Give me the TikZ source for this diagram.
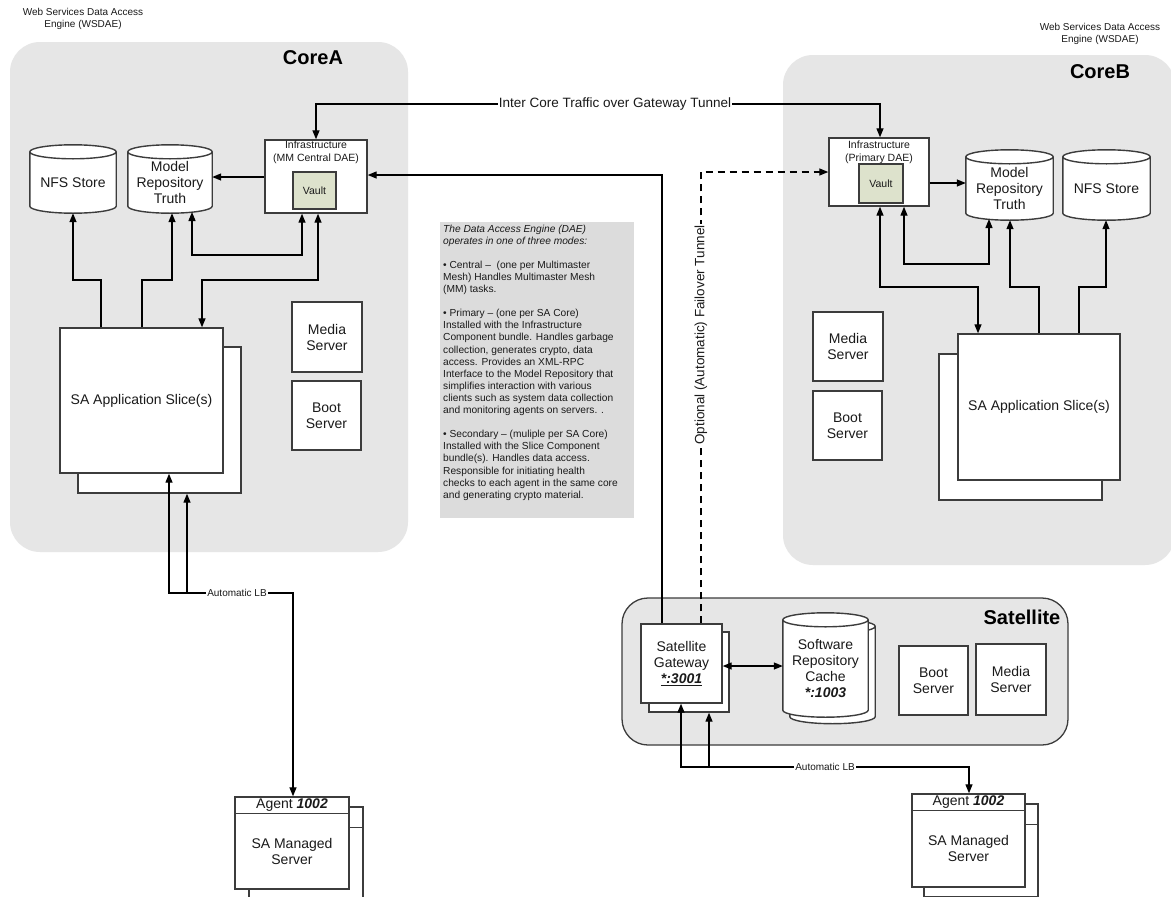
\documentclass[tikz,border=0pt]{standalone}
\usepackage{fontspec}
\setmainfont{Liberation Sans}
\usetikzlibrary{arrows.meta,calc}
\pgfdeclarelayer{back}
\pgfdeclarelayer{mid}
\pgfsetlayers{back,mid,main}

\definecolor{corefill}{HTML}{E6E6E6}
\definecolor{infofill}{HTML}{DCDCDC}
\definecolor{vaultfill}{HTML}{DDE2CC}
\definecolor{edge}{HTML}{3C3C3C}
\definecolor{ink}{HTML}{1A1A1A}

\newcommand\fsz[2]{\fontsize{#1}{#2}\selectfont}

\tikzset{
 corebg/.style={fill=corefill, rounded corners=30pt, draw=none, inner sep=0pt},
 satbg/.style={fill=corefill, rounded corners=26pt, draw=edge, line width=1.3pt, inner sep=0pt},
 infobg/.style={fill=infofill, draw=none, inner sep=0pt},
 box/.style={draw=edge, line width=1.4pt, fill=white, inner sep=0pt, align=center, font=\fsz{14}{16}, text=ink},
 boxline/.style={draw=edge, line width=1.4pt},
 vaultbox/.style={draw=edge, line width=1.4pt, fill=vaultfill, inner sep=0pt, font=\fsz{10.5}{12}, text=ink},
 cylnode/.style={inner sep=0pt, align=center, font=\fsz{14}{16}, text=ink},
 txt/.style={inner sep=0pt, align=center, font=\fsz{14}{16}, text=ink},
 smalltxt/.style={inner sep=0pt, align=center, font=\fsz{10.5}{13}, text=ink},
 wslbl/.style={inner sep=0pt, align=center, font=\fsz{10}{12.5}, text=ink},
 lbl/.style={font=\fsz{10}{12}, text=ink, inner sep=1pt, fill=white},
 biglbl/.style={font=\fsz{13.5}{15}, text=ink, inner sep=1pt, fill=white},
 infotxt/.style={align=left, font=\fsz{10.2}{12.1}, inner sep=1pt, text=ink},
 conn/.style={draw=black, line width=1.3pt},
 arr/.style={conn, -{Triangle[length=9pt,width=7pt]}},
 arrb/.style={conn, {Triangle[length=9pt,width=7pt]}-{Triangle[length=9pt,width=7pt]}},
 title/.style={font=\bfseries\fsz{20}{24}, text=black, inner sep=0pt},
}

\newcommand\cylinderat[1]{%
 \begin{pgfonlayer}{mid}
 \draw[draw=edge, line width=1.4pt, fill=white] let \p1=(#1.north west), \p2=(#1.south east), \n1={(\x2-\x1)/2} in
  (\x1,\y1) -- (\x1,\y2+7pt) arc[start angle=180, end angle=360, x radius=\n1, y radius=7pt] -- (\x2,\y1) arc[start angle=0, end angle=180, x radius=\n1, y radius=7pt] -- cycle
  (\x1,\y1) arc[start angle=180, end angle=360, x radius=\n1, y radius=7pt];
 \end{pgfonlayer}}

\begin{document}
\begin{tikzpicture}[x=1pt,y=-1pt]
\useasboundingbox (0,0) rectangle (1171,897);

% ---------- backgrounds
\begin{pgfonlayer}{back}
\fill[white] (0,0) rectangle (1171,897);
\node[corebg, minimum width=398pt, minimum height=510pt] (coreA) at (209,297) {};
\node[corebg, minimum width=392pt, minimum height=510pt] (coreB) at (979,310) {};
\node[satbg, minimum width=446pt, minimum height=147pt] (satBg) at (845,671.5) {};
\node[infobg, minimum width=194pt, minimum height=296pt] (infoBg) at (537,370) {};
\end{pgfonlayer}

% ---------- titles
\node[title] (coreAT) at (313,58) {CoreA};
\node[title] (coreBT) at (1100,72) {CoreB};
\node[title] (satT) at (1022,617) {Satellite};
\node[wslbl] (wsA) at (83,19) {Web Services Data Access\\Engine (WSDAE)};
\node[wslbl] (wsB) at (1100,34) {Web Services Data Access\\Engine (WSDAE)};

% ---------- CoreA
\node[cylnode, minimum width=86pt, minimum height=61pt] (nfsA) at (73,182.5) {NFS Store};
\cylinderat{nfsA}
\node[cylnode, minimum width=84pt, minimum height=61pt] (modelA) at (170,182.5) {Model\\Repository\\Truth};
\cylinderat{modelA}
\node[box, minimum width=102pt, minimum height=73pt] (infraA) at (316,176.5) {};
\node[smalltxt, anchor=north] (infraAtxt) at ([yshift=-1.8pt]infraA.north) {Infrastructure\\(MM Central DAE)};
\node[vaultbox, minimum width=43pt, minimum height=37pt] (vaultA) at (314.5,190.5) {Vault};
\node[box, minimum width=163pt, minimum height=146pt] (sliceAback) at (159.5,420) {};
\node[box, minimum width=163pt, minimum height=145pt] (sliceA) at (141.5,400.5) {SA Application Slice(s)};
\node[box, minimum width=70pt, minimum height=70pt] (mediaA) at (327,337) {Media\\Server};
\node[box, minimum width=69pt, minimum height=69pt] (bootA) at (326.5,415.5) {Boot\\Server};

% ---------- CoreB
\node[box, minimum width=100pt, minimum height=68pt] (infraB) at (879,172) {};
\node[smalltxt, anchor=north] (infraBtxt) at ([yshift=-3pt]infraB.north) {Infrastructure\\(Primary DAE)};
\node[vaultbox, minimum width=44pt, minimum height=39pt] (vaultB) at (881,183.5) {Vault};
\node[cylnode, minimum width=87pt, minimum height=63pt] (modelB) at (1009.5,188.5) {Model\\Repository\\Truth};
\cylinderat{modelB}
\node[cylnode, minimum width=87pt, minimum height=63pt] (nfsB) at (1106.5,188.5) {NFS Store};
\cylinderat{nfsB}
\node[box, minimum width=163pt, minimum height=146pt] (sliceBback) at (1020.5,427) {};
\node[box, minimum width=162pt, minimum height=146pt] (sliceB) at (1039,407) {SA Application Slice(s)};
\node[box, minimum width=70pt, minimum height=69pt] (mediaB) at (848,346.5) {Media\\Server};
\node[box, minimum width=69pt, minimum height=69pt] (bootB) at (847.5,425.5) {Boot\\Server};

% ---------- info text
\node[infotxt, anchor=north west] (infoTxt) at (442,223.5) {%
\textit{The Data Access Engine (DAE)}\\
\textit{operates in one of three modes:}\\[12.1pt]
• Central –\ \ (one per Multimaster\\
Mesh) Handles Multimaster Mesh\\
(MM) tasks.\\[12.1pt]
• Primary – (one per SA Core)\\
Installed with the Infrastructure\\
Component bundle. Handles garbage\\
collection, generates crypto, data\\
access. Provides an XML-RPC\\
Interface to the Model Repository that\\
simplifies interaction with various\\
clients such as system data collection\\
and monitoring agents on servers. .\\[12.1pt]
• Secondary – (muliple per SA Core)\\
Installed with the Slice Component\\
bundle(s). Handles data access.\\
Responsible for initiating health\\
checks to each agent in the same core\\
and generating crypto material.};

% ---------- Satellite
\node[box, minimum width=80pt, minimum height=80pt] (gwBack) at (689,672) {};
\node[box, minimum width=81pt, minimum height=79pt] (gwFront) at (681.5,663.5) {Satellite\\Gateway\\\underline{\textbf{\textit{*:3001}}}};
\node[cylnode, minimum width=85pt, minimum height=97pt] (srcBack) at (832.5,675) {};
\cylinderat{srcBack}
\node[cylnode, minimum width=85pt, minimum height=97pt] (srcFront) at (825.5,668.5) {Software\\Repository\\Cache\\\textbf{\textit{*:1003}}};
\cylinderat{srcFront}
\node[box, minimum width=69pt, minimum height=69pt] (bootS) at (933.5,680.5) {Boot\\Server};
\node[box, minimum width=70pt, minimum height=71pt] (mediaS) at (1011,679.5) {Media\\Server};

% ---------- Agents
\node[box, minimum width=114pt, minimum height=92pt] (agentAback) at (306,853) {};
\draw[boxline] ([yshift=-21pt]agentAback.north west) -- ([yshift=-21pt]agentAback.north east);
\node[box, minimum width=114pt, minimum height=92pt] (agentA) at (292,843) {};
\draw[boxline] ([yshift=-17pt]agentA.north west) -- ([yshift=-17pt]agentA.north east);
\node[txt] (agentAhdr) at (292,805.5) {Agent \textbf{\textit{1002}}};
\node[txt] (agentAbody) at (292,851) {SA Managed\\Server};

\node[box, minimum width=114pt, minimum height=93pt] (agentBback) at (981,850.5) {};
\draw[boxline] ([yshift=-21pt]agentBback.north west) -- ([yshift=-21pt]agentBback.north east);
\node[box, minimum width=113pt, minimum height=93pt] (agentB) at (968.5,840.5) {};
\draw[boxline] ([yshift=-17pt]agentB.north west) -- ([yshift=-17pt]agentB.north east);
\node[txt] (agentBhdr) at (968.5,802.5) {Agent \textbf{\textit{1002}}};
\node[txt] (agentBbody) at (968.5,848) {SA Managed\\Server};

% ---------- connectors CoreA
\draw[arr] (101,0 |- sliceA.north) -- (101,280) -- (73,280) -- (73,0 |- nfsA.south);
\draw[arr] (142,0 |- sliceA.north) -- (142,280) -- (172,280) -- (172,0 |- modelA.south);
\draw[arrb] (202,0 |- sliceA.north) -- (202,280) -- (318,280) -- (318,0 |- infraA.south);
\draw[arrb] (192,212) -- (192,255) -- (302,255) -- (302,0 |- infraA.south);
\draw[arr] (infraA.west |- 0,177) -- (modelA.east |- 0,177);

% ---------- connectors CoreB
\draw[arrb] (978,0 |- sliceB.north) -- (978,287) -- (880,287) -- (880,0 |- infraB.south);
\draw[arrb] (904,0 |- infraB.south) -- (904,264) -- (989,264) -- (989,219);
\draw[arr] (1039,0 |- sliceB.north) -- (1039,287) -- (1010,287) -- (1010,0 |- modelB.south);
\draw[arr] (1079,0 |- sliceB.north) -- (1079,287) -- (1106,287) -- (1106,0 |- nfsB.south);
\draw[arr] (infraB.east |- 0,183) -- (modelB.west |- 0,183);

% ---------- inter core
\draw[arrb] (316,0 |- infraA.north) -- (316,104) -- (880,104) -- (880,0 |- infraB.north);
\node[biglbl] (ictLbl) at (615,104) {Inter Core Traffic over Gateway Tunnel};
\draw[arr] (662,0 |- gwFront.north) -- (662,175) -- (infraA.east |- 0,175);
\draw[arr, dash pattern=on 7pt off 5pt] (701,0 |- gwFront.north) -- (701,172) -- (infraB.west |- 0,172);
\node[biglbl, rotate=90] (failLbl) at (701,335) {Optional (Automatic) Failover Tunnel};

% ---------- satellite internal
\draw[arrb] (gwFront.east |- 0,666) -- (srcFront.west |- 0,666);

% ---------- agents
\draw[arrb] (169,0 |- sliceA.south) -- (169,593) -- (293,593) -- (293,0 |- agentA.north);
\draw[arr] (187,593) -- (187,0 |- sliceAback.south);
\node[lbl] (lbA) at (237,593) {Automatic LB};
\draw[arrb] (681,0 |- gwFront.south) -- (681,767) -- (969,767) -- (969,0 |- agentB.north);
\draw[arr] (709,767) -- (709,0 |- gwBack.south);
\node[lbl] (lbB) at (825,767) {Automatic LB};
\end{tikzpicture}
\end{document}
